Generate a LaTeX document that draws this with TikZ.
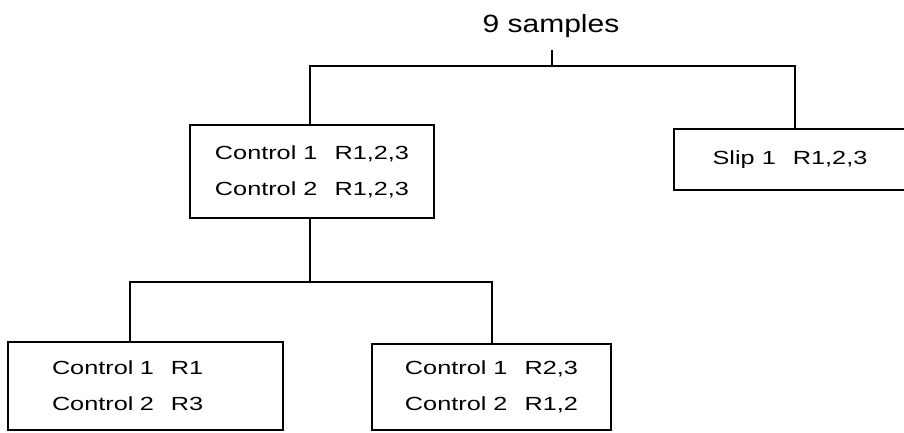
\documentclass[tikz,border=0pt]{standalone}
\usepackage{fontspec}
\setmainfont{Liberation Sans}
\newfontfamily\boxfont{Liberation Sans}[FakeStretch=1.33]
\newfontfamily\titlefont{Liberation Sans}[FakeStretch=1.2]
\begin{document}
\begin{tikzpicture}[x=1pt,y=-1pt,
  box/.style={draw,line width=1.5pt,inner sep=0pt,align=center,font=\boxfont\fontsize{19}{36}\selectfont},
  conn/.style={line width=1.3pt}]
\useasboundingbox (0,0) rectangle (904,433);
\node[anchor=base,inner sep=0pt,font=\titlefont\fontsize{25}{30}\selectfont] (title) at (551,33) {9 samples};
\node[box,minimum width=244pt,minimum height=93pt] (b1) at (312,171.5) {Control 1\hspace{0.9em}R1,2,3\\Control 2\hspace{0.9em}R1,2,3};
\node[box,minimum width=232pt,minimum height=61pt] (b2) at (790,159.5) {Slip 1\hspace{0.9em}R1,2,3};
\node[box,minimum width=275pt,minimum height=88pt,text width=275pt,align=left] (b3) at (145.5,386) {\hspace*{44pt}Control 1\hspace{0.9em}R1\\\hspace*{44pt}Control 2\hspace{0.9em}R3};
\node[box,minimum width=239pt,minimum height=86pt] (b4) at (491.5,387) {Control 1\hspace{0.9em}R2,3\\Control 2\hspace{0.9em}R1,2};
\coordinate (j1) at (552,66);
\coordinate (v1) at (310,66);
\coordinate (v2) at (795,66);
\coordinate (j2) at (310,282);
\coordinate (v3) at (130,282);
\coordinate (v4) at (492,282);
\draw[conn] (j1 |- 0,50) -- (j1);
\draw[conn] (v1 |- b1.north) -- (v1) -- (v2) -- (v2 |- b2.north);
\draw[conn] (j2 |- b1.south) -- (j2);
\draw[conn] (v3 |- b3.north) -- (v3) -- (v4) -- (v4 |- b4.north);
\end{tikzpicture}
\end{document}
